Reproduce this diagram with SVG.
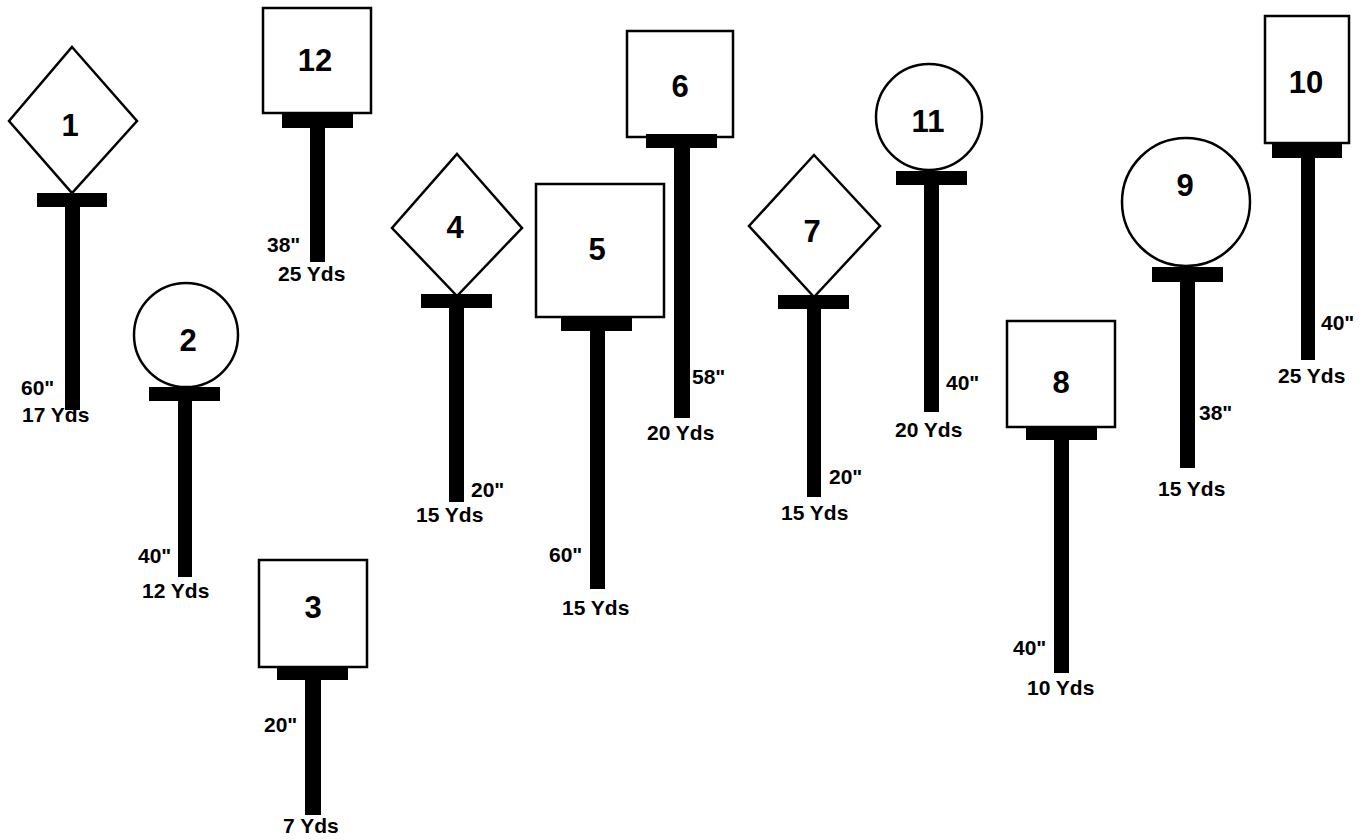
<svg xmlns="http://www.w3.org/2000/svg" width="1366" height="840" viewBox="0 0 1366 840">
<style>
.face{fill:#fff;stroke:#000;stroke-width:2.5}
.bar{fill:#000}
.num{font-family:"Liberation Sans",Arial,sans-serif;font-weight:bold;font-size:31px;text-anchor:middle;fill:#000}
.lbl{font-family:"Liberation Sans",Arial,sans-serif;font-weight:bold;font-size:21px;fill:#000}
</style>
<rect width="1366" height="840" fill="#fff"/>
<g id="target-1">
<polygon class="face" points="72,47 137,121 72,193 9,121"/>
<rect class="bar" x="37" y="193" width="70" height="14"/>
<rect class="bar" x="65" y="207" width="15" height="203"/>
<text class="num" x="70" y="136">1</text>
<text class="lbl" x="21" y="395">60"</text>
<text class="lbl" x="22" y="422">17 Yds</text>
</g>
<g id="target-2">
<circle class="face" cx="186" cy="335" r="52"/>
<rect class="bar" x="149" y="387" width="71" height="14"/>
<rect class="bar" x="178" y="401" width="14" height="176"/>
<text class="num" x="188" y="351">2</text>
<text class="lbl" x="138" y="563">40"</text>
<text class="lbl" x="142" y="598">12 Yds</text>
</g>
<g id="target-12">
<rect class="face" x="263" y="8" width="108" height="105"/>
<rect class="bar" x="282" y="114" width="71" height="14"/>
<rect class="bar" x="310" y="128" width="15" height="134"/>
<text class="num" x="315" y="71">12</text>
<text class="lbl" x="267" y="252">38"</text>
<text class="lbl" x="278" y="281">25 Yds</text>
</g>
<g id="target-3">
<rect class="face" x="259" y="560" width="108" height="107"/>
<rect class="bar" x="277" y="667" width="71" height="13"/>
<rect class="bar" x="305" y="680" width="16" height="135"/>
<text class="num" x="313" y="618">3</text>
<text class="lbl" x="264" y="732">20"</text>
<text class="lbl" x="283" y="833">7 Yds</text>
</g>
<g id="target-4">
<polygon class="face" points="457,154 522,228 457,296 392,228"/>
<rect class="bar" x="421" y="294" width="71" height="14"/>
<rect class="bar" x="449" y="308" width="15" height="194"/>
<text class="num" x="455" y="238">4</text>
<text class="lbl" x="471" y="497">20"</text>
<text class="lbl" x="416" y="522">15 Yds</text>
</g>
<g id="target-5">
<rect class="face" x="536" y="184" width="128" height="133"/>
<rect class="bar" x="561" y="317" width="71" height="14"/>
<rect class="bar" x="590" y="331" width="15" height="258"/>
<text class="num" x="597" y="260">5</text>
<text class="lbl" x="549" y="562">60"</text>
<text class="lbl" x="562" y="615">15 Yds</text>
</g>
<g id="target-6">
<rect class="face" x="627" y="31" width="106" height="106"/>
<rect class="bar" x="646" y="134" width="71" height="14"/>
<rect class="bar" x="674" y="148" width="16" height="270"/>
<text class="num" x="680" y="97">6</text>
<text class="lbl" x="692" y="384">58"</text>
<text class="lbl" x="647" y="440">20 Yds</text>
</g>
<g id="target-7">
<polygon class="face" points="814,155 880,226 814,297 749,226"/>
<rect class="bar" x="778" y="295" width="71" height="14"/>
<rect class="bar" x="807" y="309" width="14" height="188"/>
<text class="num" x="812" y="242">7</text>
<text class="lbl" x="829" y="484">20"</text>
<text class="lbl" x="781" y="520">15 Yds</text>
</g>
<g id="target-11">
<circle class="face" cx="929" cy="117" r="53"/>
<rect class="bar" x="896" y="171" width="71" height="14"/>
<rect class="bar" x="924" y="185" width="15" height="227"/>
<text class="num" x="928" y="132">11</text>
<text class="lbl" x="946" y="390">40"</text>
<text class="lbl" x="895" y="437">20 Yds</text>
</g>
<g id="target-8">
<rect class="face" x="1007" y="321" width="108" height="106"/>
<rect class="bar" x="1026" y="427" width="71" height="13"/>
<rect class="bar" x="1054" y="440" width="15" height="233"/>
<text class="num" x="1061" y="393">8</text>
<text class="lbl" x="1013" y="655">40"</text>
<text class="lbl" x="1027" y="695">10 Yds</text>
</g>
<g id="target-9">
<circle class="face" cx="1186" cy="202" r="64"/>
<rect class="bar" x="1152" y="267" width="71" height="15"/>
<rect class="bar" x="1180" y="282" width="15" height="186"/>
<text class="num" x="1185" y="196">9</text>
<text class="lbl" x="1199" y="420">38"</text>
<text class="lbl" x="1158" y="496">15 Yds</text>
</g>
<g id="target-10">
<rect class="face" x="1265" y="16" width="84" height="127"/>
<rect class="bar" x="1272" y="143" width="70" height="15"/>
<rect class="bar" x="1301" y="158" width="14" height="202"/>
<text class="num" x="1306" y="93">10</text>
<text class="lbl" x="1321" y="330">40"</text>
<text class="lbl" x="1278" y="383">25 Yds</text>
</g>
<g id="connectors"/>
</svg>
